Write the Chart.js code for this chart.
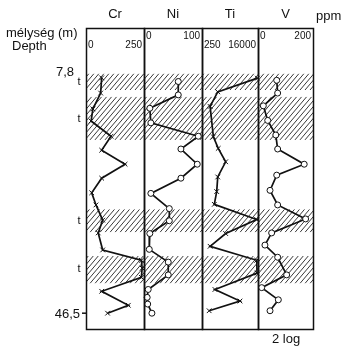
<!DOCTYPE html>
<html>
<head>
<meta charset="utf-8">
<script src="https://cdn.jsdelivr.net/npm/chart.js@4.4.0/dist/chart.umd.min.js"></script>
<style>
  html, body { margin: 0; padding: 0; background: #fff; }
  #wrap { position: relative; width: 342px; height: 349px; }
  #wrap canvas { position: absolute; left: 0; top: 0; }
</style>
</head>
<body>
<div id="wrap">
  <canvas id="c0" width="342" height="349"></canvas>
  <canvas id="c1" width="342" height="349"></canvas>
  <canvas id="c2" width="342" height="349"></canvas>
  <canvas id="c3" width="342" height="349"></canvas>
</div>
<script>
// Elemek (ppm) és mélység (m)
const elemek = ["Cr", "Ni", "Ti", "V"];
const skalaFeliratok = [["0", "250"], ["0", "100"], ["250", "16000"], ["0", "200"]];

const crMelyseg = [7.8, 10.3, 12.9, 14.9, 17.4, 19.7, 22.0, 24.3, 26.7, 28.7, 31.2, 33.3, 36.1, 37.8, 39.1, 40.6, 42.9, 45.2, 46.5];
const crErtek = [67, 62, 24, 15, 113, 67, 182, 67, 18, 39, 72, 50, 72, 262, 266, 262, 67, 198, 96];

const niMelyseg = [8.4, 10.6, 12.8, 15.2, 17.4, 19.5, 22.0, 24.3, 26.8, 29.3, 31.3, 33.4, 36.0, 38.1, 40.2, 42.6, 43.9, 45.0, 46.5];
const niErtek = [61, 61, 7, 9, 99, 66, 97, 66, 9, 44, 44, 7, 6, 42, 42, 4, 2, 3, 11];

const tiMelyseg = [7.85, 10.1, 12.5, 17.5, 19.4, 21.6, 24.1, 26.5, 28.6, 31.1, 33.4, 35.5, 37.8, 39.9, 42.6, 44.5, 46.1];
const tiErtek = [19000, 730, 390, 510, 760, 1400, 730, 670, 550, 18000, 1400, 390, 18000, 18500, 580, 4550, 360];

const vMelyseg = [8.2, 10.3, 12.4, 14.8, 17.2, 19.5, 22.0, 23.8, 26.3, 28.7, 31.0, 33.3, 35.3, 37.3, 40.2, 42.3, 44.3, 46.1];
const vErtek = [73, 77, 15, 34, 69, 77, 192, 73, 44, 77, 198, 51, 22, 77, 116, 8, 80, 44];

// Tufa rétegek (vonalkázott sávok) és jelölések
const savok = [[7.1, 9.8], [10.9, 18.0], [29.4, 33.2], [37.1, 41.6]];
const tJelek = [8.5, 14.5, 31.3, 39.3];
const melysegJelek = [7.8, 46.5];

const panelek = [
  { left: 86, right: 144, x: { type: "linear", min: -10, max: 275 }, melyseg: crMelyseg, ertek: crErtek, jel: "crossRot" },
  { left: 144, right: 202, x: { type: "linear", min: -4, max: 106 }, melyseg: niMelyseg, ertek: niErtek, jel: "circle" },
  { left: 202, right: 258, x: { type: "logarithmic", min: 200, max: 20000 }, melyseg: tiMelyseg, ertek: tiErtek, jel: "crossRot" },
  { left: 258, right: 313, x: { type: "linear", min: -8, max: 230 }, melyseg: vMelyseg, ertek: vErtek, jel: "circle" },
];

const BETU = "Liberation Sans, Arial, sans-serif";

// Vonalkázás + keret + feliratok
const rajzPlugin = (idx) => ({
  id: "rajz" + idx,
  beforeDatasetsDraw(chart) {
    const { ctx, chartArea: a, scales } = chart;
    ctx.save();
    ctx.strokeStyle = "#222";
    ctx.lineWidth = 0.9;
    for (const [d0, d1] of savok) {
      const y0 = scales.y.getPixelForValue(d0);
      const y1 = scales.y.getPixelForValue(d1);
      ctx.save();
      ctx.beginPath();
      ctx.rect(a.left, y0, a.right - a.left, y1 - y0);
      ctx.clip();
      ctx.beginPath();
      const h = y1 - y0;
      for (let x = a.left - h - 6; x < a.right + 6; x += 5) {
        const xs = Math.round(x / 5) * 5;
        ctx.moveTo(xs, y1);
        ctx.lineTo(xs + h * 0.85, y0);
      }
      ctx.stroke();
      ctx.restore();
    }
    ctx.restore();
  },
  afterDraw(chart) {
    const { ctx, chartArea: a, scales } = chart;
    ctx.save();
    ctx.strokeStyle = "#111";
    ctx.lineWidth = 1.5;
    ctx.strokeRect(a.left + 0.5, a.top + 0.5, a.right - a.left, a.bottom - a.top);

    ctx.fillStyle = "#111";
    ctx.textBaseline = "middle";
    ctx.font = "13px " + BETU;
    ctx.textAlign = "center";
    ctx.fillText(elemek[idx], (a.left + a.right) / 2, 14);

    ctx.font = "10px " + BETU;
    const yl = idx % 2 === 0 ? 45 : 36;
    ctx.textAlign = "left";
    ctx.fillText(skalaFeliratok[idx][0], a.left + 2, yl);
    ctx.textAlign = "right";
    ctx.fillText(skalaFeliratok[idx][1], a.right - 2, yl);

    if (idx === 0) {
      ctx.font = "13px " + BETU;
      ctx.textAlign = "left";
      ctx.fillText("mélység (m)", 6, 33);
      ctx.fillText("Depth", 12, 46);
      ctx.textAlign = "right";
      ctx.fillText("7,8", 74, scales.y.getPixelForValue(melysegJelek[0]) - 5);
      ctx.fillText("46,5", 80, scales.y.getPixelForValue(melysegJelek[1]) + 1);
      ctx.beginPath();
      ctx.moveTo(82, scales.y.getPixelForValue(melysegJelek[1]));
      ctx.lineTo(a.left, scales.y.getPixelForValue(melysegJelek[1]));
      ctx.stroke();
      ctx.font = "11px " + BETU;
      ctx.textAlign = "center";
      for (const d of tJelek) ctx.fillText("t", 79, scales.y.getPixelForValue(d));
    }
    if (idx === 3) {
      ctx.font = "13px " + BETU;
      ctx.textAlign = "left";
      ctx.fillText("ppm", 316, 16);
      ctx.fillText("2 log", 272, 339);
    }
    ctx.restore();
  },
});

panelek.forEach((p, i) => {
  new Chart(document.getElementById("c" + i), {
    type: "line",
    data: {
      datasets: [{
        data: p.melyseg.map((d, k) => ({ x: p.ertek[k], y: d })),
        borderColor: "#111",
        borderWidth: 1.7,
        pointStyle: p.jel,
        pointRadius: p.jel === "circle" ? 3 : 3.3,
        pointBorderWidth: 1,
        pointBorderColor: "#111",
        pointBackgroundColor: "#fff",
        tension: 0,
        clip: false,
      }],
    },
    options: {
      responsive: false,
      animation: false,
      events: [],
      layout: { padding: { left: p.left, right: 342 - p.right, top: 28, bottom: 20 } },
      scales: {
        x: { ...p.x, display: false },
        y: { type: "linear", min: -0.4, max: 49.1, reverse: true, display: false },
      },
      plugins: { legend: { display: false }, tooltip: { enabled: false } },
    },
    plugins: [rajzPlugin(i)],
  });
});
</script>
</body>
</html>
